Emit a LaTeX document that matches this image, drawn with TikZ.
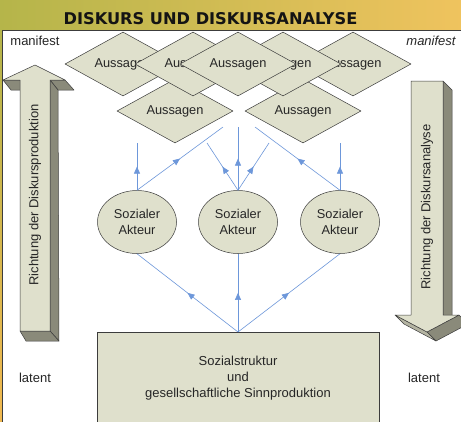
\documentclass[tikz,border=0pt]{standalone}
\usepackage{fontspec}
\setmainfont{Liberation Sans}
\newfontfamily\titlefont{DejaVu Sans}
\usetikzlibrary{shapes.geometric,arrows.meta,decorations.markings}
\definecolor{bannerL}{HTML}{B5B54A}
\definecolor{bannerR}{HTML}{EFC35E}
\definecolor{boxfill}{HTML}{DFE0CC}
\definecolor{sidedark}{HTML}{8A8A7A}
\definecolor{sidemid}{HTML}{B4B4A2}
\definecolor{linegray}{HTML}{3C3C3C}
\definecolor{flowblue}{HTML}{6D97DA}

\begin{document}
\begin{tikzpicture}[x=1pt,y=1pt,
	every node/.style={inner sep=0pt, text=black!85},
	txt/.style={font=\fontsize{13}{16}\selectfont},
	aussage/.style={diamond, shape aspect=1.8, draw=linegray, line width=0.5pt, fill=boxfill,
		minimum width=116pt, minimum height=64pt, font=\fontsize{12.8}{15}\selectfont},
	akteur/.style={ellipse, draw=linegray, line width=0.5pt, fill=boxfill,
		minimum width=79pt, minimum height=63pt, align=center, font=\fontsize{12.8}{16}\selectfont},
	flow/.style={color=flowblue, line width=0.6pt, postaction={decorate},
		decoration={markings, mark=at position 0.5 with {\arrow{Triangle[length=7pt,width=6pt]}}}},
	face/.style={draw=linegray, line width=0.5pt, line join=round}]
		\useasboundingbox (0,0) rectangle (461,-421);
		% banner and panel
		\shade [left color=bannerL, right color=bannerR] (0,0) rectangle (461,-31);
		\shade [top color=bannerL, bottom color=bannerR!85!orange] (0,-31) rectangle (3,-421);
		\fill [white] (2.5,-30.5) rectangle (470,-430);
		\draw [linegray, line width=1pt] (2.5,-430) |- (470,-30.5);
		\node [text=black!92] (title) at (210.5,-19) {\titlefont\bfseries\fontsize{16.2}{19}\selectfont DISKURS UND DISKURSANALYSE};
		\node [txt] (mleft) at (35,-41) {manifest};
		\node [txt, font=\itshape\fontsize{13}{16}\selectfont] (mright) at (431,-41) {manifest};
		\node [txt] (lleft) at (35,-378) {latent};
		\node [txt] (lright) at (424,-378) {latent};
		% left arrow, upwards
		\filldraw [face, fill=sidedark] (3,-80) -- (20,-80) -- (28,-90) -- (11,-90) -- cycle;
		\filldraw [face, fill=sidedark] (50,-80) -- (65,-80) -- (74,-90) -- (58,-90) -- cycle;
		\filldraw [face, fill=sidedark] (50,-80) -- (58,-90) -- (59,-341) -- (50,-331) -- cycle;
		\filldraw [face, fill=sidedark] (20,-331) -- (50,-331) -- (59,-341) -- (26,-341) -- cycle;
		\filldraw [face, fill=boxfill] (35,-65) -- (65,-80) -- (50,-80) -- (50,-331) -- (20,-331) -- (20,-80) -- (3,-80) -- cycle;
		\node [txt, rotate=90] (lprod) at (35,-195) {Richtung der Diskursproduktion};
		% right arrow, downwards
		\filldraw [face, fill=sidedark] (443,-81) -- (452,-90) -- (452,-322) -- (443,-322) -- cycle;
		\filldraw [face, fill=sidedark] (459,-315) -- (468,-324) -- (436,-341) -- (427,-332) -- cycle;
		\filldraw [face, fill=sidemid] (395,-315) -- (427,-332) -- (436,-341) -- (404,-324) -- cycle;
		\filldraw [face, fill=boxfill] (411,-81) -- (443,-81) -- (443,-315) -- (459,-315) -- (427,-332) -- (395,-315) -- (411,-315) -- cycle;
		\node [txt, rotate=90] (rana) at (427,-207) {Richtung der Diskursanalyse};
		% Aussagen
		\node [aussage] (d6) at (175,-111) {Aussagen};
		\node [aussage] (d7) at (303,-111) {Aussagen};
		\node [aussage] (d1) at (123,-64) {Aussagen};
		\node [aussage] (d2) at (193,-64) {Aussagen};
		\node [aussage] (d5) at (353,-64) {Aussagen};
		\node [aussage] (d4) at (283,-64) {Aussagen};
		\node [aussage] (d3) at (238,-64) {Aussagen};
		% Akteure and Sozialstruktur
		\node [akteur] (act1) at (137,-222) {Sozialer\\Akteur};
		\node [akteur] (act2) at (238,-222) {Sozialer\\Akteur};
		\node [akteur] (act3) at (340,-222) {Sozialer\\Akteur};
		\node [draw=linegray, line width=0.5pt, fill=boxfill, minimum width=282pt, minimum height=92pt,
			align=center, anchor=north, font=\fontsize{13}{16}\selectfont] (base) at (238,-332)
			{Sozialstruktur\\und\\gesellschaftliche Sinnproduktion};
		% free ends below the Aussagen
		\coordinate (t1) at (137,-143);
		\coordinate (t2) at (223,-127);
		\coordinate (t3) at (207,-143);
		\coordinate (t4) at (238,-127);
		\coordinate (t5) at (269,-143);
		\coordinate (t6) at (255,-127);
		\coordinate (t7) at (340,-143);
		\draw [flow] (base.north) -- (act1.south);
		\draw [flow] (base.north) -- (act2.south);
		\draw [flow] (base.north) -- (act3.south);
		\draw [flow] (act1.north) -- (t1);
		\draw [flow] (act1.north) -- (t2);
		\draw [flow] (act2.north) -- (t3);
		\draw [flow] (act2.north) -- (t4);
		\draw [flow] (act2.north) -- (t5);
		\draw [flow] (act3.north) -- (t6);
		\draw [flow] (act3.north) -- (t7);
	\end{tikzpicture}
\end{document}
